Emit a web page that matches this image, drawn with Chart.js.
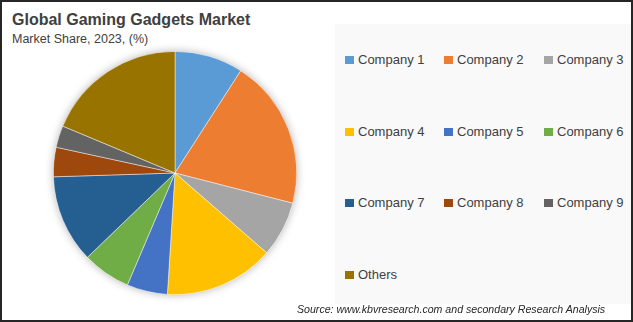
<!DOCTYPE html>
<html>
<head>
<meta charset="utf-8">
<script src="https://cdn.jsdelivr.net/npm/chart.js@4.4.0/dist/chart.umd.min.js"></script>
<style>
  html, body { margin: 0; padding: 0; background: #fff; }
  #frame { position: relative; width: 633px; height: 322px; box-sizing: border-box; border: 2px solid #262626; overflow: hidden; font-family: "Liberation Sans", Arial, sans-serif; color: #404040; }
  #title { position: absolute; left: 10px; top: 9px; font-size: 16px; font-weight: bold; white-space: nowrap; }
  #subtitle { position: absolute; left: 10px; top: 30px; font-size: 12.5px; white-space: nowrap; }
  #legendBg { position: absolute; left: 333px; top: 22px; width: 296px; height: 280px; background: #f9f9f9; }
  .item { position: absolute; font-size: 13px; white-space: nowrap; line-height: 16px; }
  .box { position: absolute; width: 9px; height: 8px; top: 4px; left: -13px; }
  #source { position: absolute; left: 295px; top: 301px; font-size: 10.6px; font-style: italic; white-space: nowrap; color: #262626; }
  #pieWrap { position: absolute; left: 43px; top: 41px; width: 260px; height: 260px; }
</style>
</head>
<body>
<div id="frame">
  <div id="title">Global Gaming Gadgets Market</div>
  <div id="subtitle">Market Share, 2023, (%)</div>
  <div id="legendBg"></div>
  <div id="pieWrap"><canvas id="c" width="260" height="260"></canvas></div>
  <div id="legend"></div>
  <div id="source">Source: www.kbvresearch.com and secondary Research Analysis</div>
</div>
<script>
const labels = ["Company 1", "Company 2", "Company 3", "Company 4", "Company 5", "Company 6", "Company 7", "Company 8", "Company 9", "Others"];
const shares = [9.1, 19.9, 7.4, 14.6, 5.4, 6.4, 11.7, 3.9, 2.9, 18.7];
const colors = ["#5B9BD5", "#ED7D31", "#A5A5A5", "#FFC000", "#4472C4", "#70AD47", "#255E91", "#9E480E", "#636363", "#997300"];

// legend grid (3 columns)
const legendCols = [356, 455, 555];
const legendRows = [50, 121.5, 193, 265];
const legendEl = document.getElementById('legend');
labels.forEach((lab, i) => {
  const d = document.createElement('div');
  d.className = 'item';
  d.style.left = legendCols[i % 3] + 'px';
  d.style.top = legendRows[Math.floor(i / 3)] + 'px';
  const b = document.createElement('span');
  b.className = 'box';
  b.style.background = colors[i];
  d.appendChild(b);
  d.appendChild(document.createTextNode(lab));
  legendEl.appendChild(d);
});

const shadowPlugin = {
  id: 'pieShadow',
  beforeDatasetsDraw(chart) {
    const meta = chart.getDatasetMeta(0);
    if (!meta.data.length) return;
    const a = meta.data[0];
    const ctx = chart.ctx;
    ctx.save();
    ctx.shadowColor = 'rgba(0,0,0,0.3)';
    ctx.shadowBlur = 9;
    ctx.shadowOffsetX = 0;
    ctx.shadowOffsetY = 0;
    ctx.fillStyle = '#ffffff';
    ctx.beginPath();
    ctx.arc(a.x, a.y, a.outerRadius, 0, Math.PI * 2);
    ctx.fill();
    ctx.restore();
  }
};

new Chart(document.getElementById('c'), {
  type: 'pie',
  data: {
    labels: labels,
    datasets: [{
      data: shares,
      backgroundColor: colors,
      borderColor: 'rgba(255,255,255,0.6)',
      borderWidth: 0.75
    }]
  },
  options: {
    responsive: false,
    animation: false,
    layout: { padding: 8 },
    plugins: {
      legend: { display: false },
      tooltip: { enabled: false }
    }
  },
  plugins: [shadowPlugin]
});
</script>
</body>
</html>
